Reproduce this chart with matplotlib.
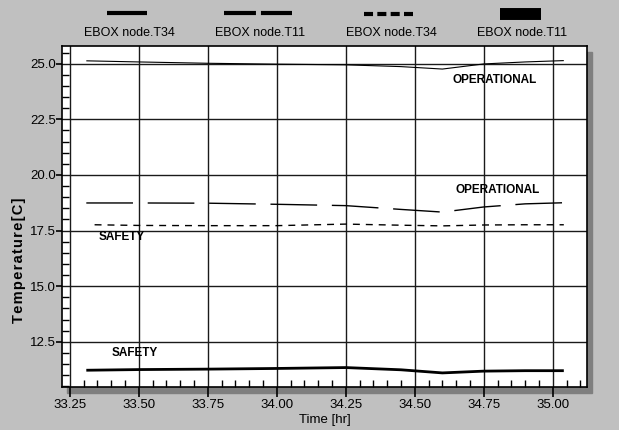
import matplotlib
matplotlib.use("Agg")
import matplotlib.pyplot as plt
from matplotlib.lines import Line2D
from matplotlib.patches import Rectangle
from matplotlib.ticker import MultipleLocator

plt.rcParams['font.family'] = ['Liberation Sans', 'DejaVu Sans']
plt.rcParams['lines.scale_dashes'] = False

# time axis [hr]
time = [33.31, 33.50, 33.75, 34.00, 34.25, 34.45, 34.60, 34.75, 34.90, 35.04]
time_short = [33.34, 33.50, 33.75, 34.00, 34.25, 34.45, 34.60, 34.75, 34.90, 35.04]

# temperatures [C]
t34_oper = [25.13, 25.08, 25.02, 24.98, 24.95, 24.87, 24.76, 24.99, 25.08, 25.14]
t11_oper = [18.74, 18.74, 18.73, 18.68, 18.62, 18.45, 18.33, 18.56, 18.70, 18.75]
t34_safe = [17.76, 17.73, 17.72, 17.72, 17.79, 17.74, 17.71, 17.75, 17.76, 17.76]
t11_safe = [11.22, 11.25, 11.27, 11.30, 11.34, 11.24, 11.10, 11.18, 11.20, 11.20]

legend_labels = ["EBOX node.T34", "EBOX node.T11", "EBOX node.T34", "EBOX node.T11"]
xticks = [33.25, 33.50, 33.75, 34.00, 34.25, 34.50, 34.75, 35.00]
yticks = [12.5, 15.0, 17.5, 20.0, 22.5, 25.0]

W, H = 619, 430
fig = plt.figure(figsize=(W / 100, H / 100), dpi=100, facecolor='#c0c0c0')

x0, x1, y0, y1 = 62.3, 587.0, 45.7, 386.7
# drop shadow behind the plot box
fig.add_artist(Rectangle(((x0 + 5) / W, 1 - (y1 + 6) / H), (x1 - x0) / W, (y1 - y0) / H,
                         transform=fig.transFigure, color='#7f7f7f', zorder=0))
ax = fig.add_axes([x0 / W, 1 - y1 / H, (x1 - x0) / W, (y1 - y0) / H])
ax.set_facecolor('white')

ax.plot(time, t34_oper, color='black', lw=0.8, solid_capstyle='butt')
ax.plot(time, t11_oper, color='black', lw=1.0, dashes=(33.6, 10.6), dash_capstyle='butt')
ax.plot(time_short, t34_safe, color='black', lw=1.0, dashes=(5.0, 4.3), dash_capstyle='butt')
ax.plot(time, t11_safe, color='black', lw=2.0, solid_capstyle='butt')

bold = dict(fontsize=8.5, fontweight='bold', ha='center', va='center')
ax.text(34.79, 24.27, "OPERATIONAL", **bold)
ax.text(34.80, 19.34, "OPERATIONAL", **bold)
ax.text(33.44, 17.20, "SAFETY", **bold)
ax.text(33.485, 11.98, "SAFETY", **bold)

ax.set_xlim(33.223, 35.124)
ax.set_ylim(10.48, 25.81)
ax.set_xticks(xticks)
ax.set_xticklabels([f"{v:.2f}" for v in xticks])
ax.set_yticks(yticks)
ax.set_yticklabels([f"{v:.1f}" for v in yticks])
ax.xaxis.set_minor_locator(MultipleLocator(0.05))
ax.yaxis.set_minor_locator(MultipleLocator(0.5))
ax.grid(True, which='major', color='#1a1a1a', lw=1.0)
ax.set_axisbelow(True)

ax.tick_params(axis='x', which='major', direction='out', length=7.2, width=1.2, pad=2, labelsize=9.5)
ax.tick_params(axis='y', which='major', direction='out', length=4.3, width=1.2, pad=0.5, labelsize=9.5)
ax.tick_params(which='minor', direction='in', length=5, width=1.0)
for s in ax.spines.values():
    s.set_linewidth(1.2)

fig.text(325 / W, 1 - 420 / H, "Time [hr]", ha='center', va='center', fontsize=9.5)
fig.text(19 / W, 1 - 260 / H, "\u200a".join("Temperature[C]"), ha='center', va='center',
         rotation=90, fontsize=10.5, fontweight='bold')

# legend strip across the top
samples = [
    dict(xs=(106.7, 147.3), y=13.3, lw=3.0, dashes=None),
    dict(xs=(224.0, 292.0), y=13.3, lw=3.0, dashes=(23.0, 3.6)),
    dict(xs=(364.3, 413.3), y=14.3, lw=3.0, dashes=(6.5, 3.1)),
    dict(xs=(500.0, 541.0), y=14.2, lw=8.6, dashes=None),
]
text_x = [129, 260, 391, 522]
for smp, lab, tx in zip(samples, legend_labels, text_x):
    ln = Line2D([smp['xs'][0] / W, smp['xs'][1] / W], [1 - smp['y'] / H] * 2,
                transform=fig.transFigure, color='black', lw=smp['lw'],
                solid_capstyle='butt', dash_capstyle='butt')
    if smp['dashes']:
        ln.set_dashes(smp['dashes'])
    fig.add_artist(ln)
    fig.text(tx / W, 1 - 33 / H, lab, ha='center', va='center', fontsize=9)

fig.savefig("out.png", dpi=100, facecolor=fig.get_facecolor())
